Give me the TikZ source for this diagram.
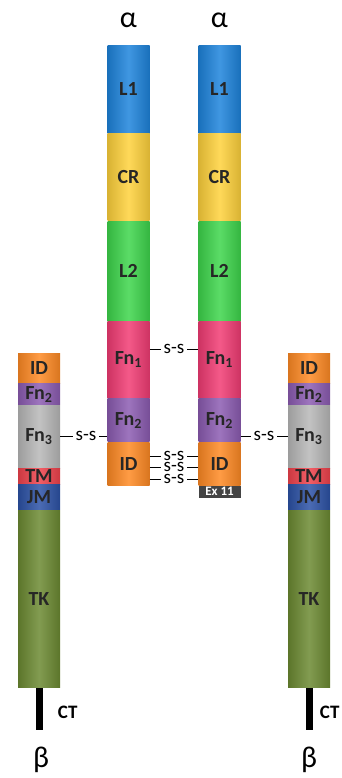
\documentclass[tikz,border=0pt]{standalone}
\usepackage{fontspec}
\setmainfont{Carlito}
\usetikzlibrary{positioning}
\definecolor{lone}{HTML}{1E84DC}
\definecolor{crcol}{HTML}{FFD23C}
\definecolor{ltwo}{HTML}{3ED64C}
\definecolor{fnone}{HTML}{F23C74}
\definecolor{fntwo}{HTML}{8C5CB2}
\definecolor{idcol}{HTML}{FF8A24}
\definecolor{fnthree}{HTML}{B8B8B8}
\definecolor{tmcol}{HTML}{F0424C}
\definecolor{jmcol}{HTML}{2C52A6}
\definecolor{tkcol}{HTML}{6C8A32}
\definecolor{exgrey}{HTML}{444444}
\begin{document}
\begin{tikzpicture}[x=1pt,y=-1pt,
		seg/.style={minimum width=42,inner sep=0pt,anchor=north,
			left color=#1!85!black,right color=#1!85!black,middle color=#1!85!white,
			font=\fontsize{20}{20}\selectfont\bfseries,text=black!85},
		link/.style={font=\fontsize{19}{19}\selectfont,inner sep=0pt,outer xsep=3pt},
		subunit/.style={font=\fontsize{30}{30}\selectfont},
		tail/.style={fill=black,minimum width=7,minimum height=42,inner sep=0pt,anchor=north},
		taillabel/.style={font=\fontsize{19}{19}\selectfont\bfseries,inner sep=0pt}]
		\useasboundingbox (0,0) rectangle (341,778);
		% alpha chains
		\node[subunit] (laName) at (128.5,20) {α};
		\node[seg=lone,minimum height=88] (laL1) at (128.5,45) {L1};
		\node[seg=crcol,minimum height=87] (laCR) at (laL1.south) {CR};
		\node[seg=ltwo,minimum height=100] (laL2) at (laCR.south) {L2};
		\node[seg=fnone,minimum height=77] (laFn1) at (laL2.south) {Fn\textsubscript{1}};
		\node[seg=fntwo,minimum height=43] (laFn2) at (laFn1.south) {Fn\textsubscript{2}};
		\node[seg=idcol,minimum height=43] (laID) at (laFn2.south) {ID};
		\node[subunit] (raName) at (219.5,20) {α};
		\node[seg=lone,minimum height=88] (raL1) at (219.5,45) {L1};
		\node[seg=crcol,minimum height=87] (raCR) at (raL1.south) {CR};
		\node[seg=ltwo,minimum height=100] (raL2) at (raCR.south) {L2};
		\node[seg=fnone,minimum height=77] (raFn1) at (raL2.south) {Fn\textsubscript{1}};
		\node[seg=fntwo,minimum height=43] (raFn2) at (raFn1.south) {Fn\textsubscript{2}};
		\node[seg=idcol,minimum height=43] (raID) at (raFn2.south) {ID};
		\node[fill=exgrey,text=white,minimum width=42,minimum height=12,inner sep=0pt,anchor=north,
			font=\fontsize{13}{13}\selectfont\bfseries] (ex11) at (raID.south) {Ex 11};
		% beta chains
		\node[seg=idcol,minimum height=30] (lbID) at (39,353) {ID};
		\node[seg=fntwo,minimum height=21] (lbFn2) at (lbID.south) {Fn\textsubscript{2}};
		\node[seg=fnthree,minimum height=63] (lbFn3) at (lbFn2.south) {Fn\textsubscript{3}};
		\node[seg=tmcol,minimum height=16] (lbTM) at (lbFn3.south) {TM};
		\node[seg=jmcol,minimum height=25] (lbJM) at (lbTM.south) {JM};
		\node[seg=tkcol,minimum height=177] (lbTK) at (lbJM.south) {TK};
		\node[tail] (lbCT) at (lbTK.south) {};
		\node[taillabel,right=15pt of lbCT,yshift=-4] (lbCTtext) {CT};
		\node[subunit] (lbName) at (41,760) {β};
		\node[seg=idcol,minimum height=30] (rbID) at (309,353) {ID};
		\node[seg=fntwo,minimum height=21] (rbFn2) at (rbID.south) {Fn\textsubscript{2}};
		\node[seg=fnthree,minimum height=63] (rbFn3) at (rbFn2.south) {Fn\textsubscript{3}};
		\node[seg=tmcol,minimum height=16] (rbTM) at (rbFn3.south) {TM};
		\node[seg=jmcol,minimum height=25] (rbJM) at (rbTM.south) {JM};
		\node[seg=tkcol,minimum height=177] (rbTK) at (rbJM.south) {TK};
		\node[tail] (rbCT) at (rbTK.south) {};
		\node[taillabel,right=7pt of rbCT,yshift=-4] (rbCTtext) {CT};
		\node[subunit] (rbName) at (309,760) {β};
		% disulfide links
		\node[link] (ssFn) at (174,349) {s-s};
		\draw[line width=0.8pt] (laFn1.east |- ssFn) -- (ssFn.west);
		\draw[line width=0.8pt] (ssFn.east) -- (raFn1.west |- ssFn);
		\node[link] (ssIDa) at (174,456) {s-s};
		\draw[line width=0.8pt] (laID.east |- ssIDa) -- (ssIDa.west);
		\draw[line width=0.8pt] (ssIDa.east) -- (raID.west |- ssIDa);
		\node[link] (ssIDb) at (174,467) {s-s};
		\draw[line width=0.8pt] (laID.east |- ssIDb) -- (ssIDb.west);
		\draw[line width=0.8pt] (ssIDb.east) -- (raID.west |- ssIDb);
		\node[link] (ssIDc) at (174,479) {s-s};
		\draw[line width=0.8pt] (laID.east |- ssIDc) -- (ssIDc.west);
		\draw[line width=0.8pt] (ssIDc.east) -- (raID.west |- ssIDc);
		\node[link] (ssLeft) at (86,436) {s-s};
		\draw[line width=0.8pt] (lbFn3.east |- ssLeft) -- (ssLeft.west);
		\draw[line width=0.8pt] (ssLeft.east) -- (laFn2.west |- ssLeft);
		\node[link] (ssRight) at (264,436) {s-s};
		\draw[line width=0.8pt] (raFn2.east |- ssRight) -- (ssRight.west);
		\draw[line width=0.8pt] (ssRight.east) -- (rbFn3.west |- ssRight);
	\end{tikzpicture}
\end{document}
